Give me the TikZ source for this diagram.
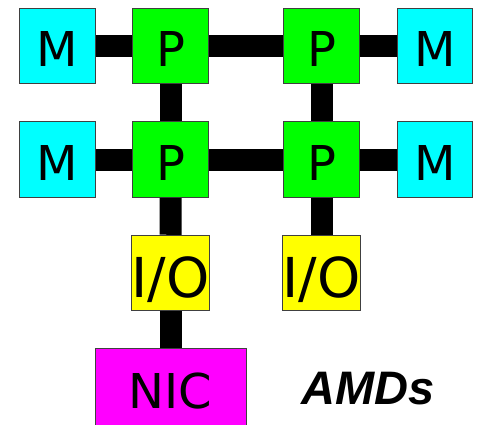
\documentclass[tikz,border=0pt]{standalone}
\usepackage{fontspec}
\setmainfont{DejaVu Sans}
\newfontfamily\amdfont{Liberation Sans}
\definecolor{memc}{RGB}{0,255,255}
\definecolor{procc}{RGB}{0,255,0}
\definecolor{ioc}{RGB}{255,255,0}
\definecolor{nicc}{RGB}{255,0,255}
\definecolor{edgec}{RGB}{64,64,64}
\begin{document}
\begin{tikzpicture}[x=1pt,y=-1pt,
  box/.style={draw=edgec, line width=1pt, minimum width=75.5pt, minimum height=75.5pt, inner sep=0pt, font=\fontsize{48}{48}\selectfont, text height=41pt, text depth=0pt},
  mem/.style={box, fill=memc},
  proc/.style={box, fill=procc},
  iob/.style={box, fill=ioc, font=\fontsize{55}{55}\selectfont, text height=48pt},
  nicb/.style={draw=edgec, line width=1pt, fill=nicc, minimum width=151pt, minimum height=80pt, inner sep=0pt, font=\fontsize{48}{48}\selectfont, text height=41pt, text depth=0pt},
  link/.style={line width=22pt, black}]
\useasboundingbox (0,0) rectangle (479,424);
\clip (0,0) rectangle (479,424);
\node[mem]  (M1) at (57.3,46) {M};
\node[proc] (P1) at (170.7,46) {P};
\node[proc] (P2) at (321.7,46) {P};
\node[mem]  (M2) at (435,46) {M};
\node[mem]  (M3) at (57.3,159.7) {M};
\node[proc] (P3) at (170.7,159.7) {P};
\node[proc] (P4) at (321.7,159.7) {P};
\node[mem]  (M4) at (435,159.7) {M};
\node[iob]  (IO1) at (170.5,273) {I/O};
\node[iob]  (IO2) at (321.7,273) {I/O};
\node[nicb] (NIC) at (170.5,388.3) {NIC};
\node[font=\amdfont\bfseries\itshape\fontsize{47}{47}\selectfont, inner sep=0pt, anchor=base west] (AMD) at (301,404) {AMDs};
\draw[link] (M1) -- (P1);
\draw[link] (P1) -- (P2);
\draw[link] (P2) -- (M2);
\draw[link] (M3) -- (P3);
\draw[link] (P3) -- (P4);
\draw[link] (P4) -- (M4);
\draw[link] (P1) -- (P3);
\draw[link] (P2) -- (P4);
\draw[link] (P3) -- (IO1);
\draw[link] (P4) -- (IO2);
\draw[link] (IO1) -- (NIC);
\end{tikzpicture}
\end{document}
